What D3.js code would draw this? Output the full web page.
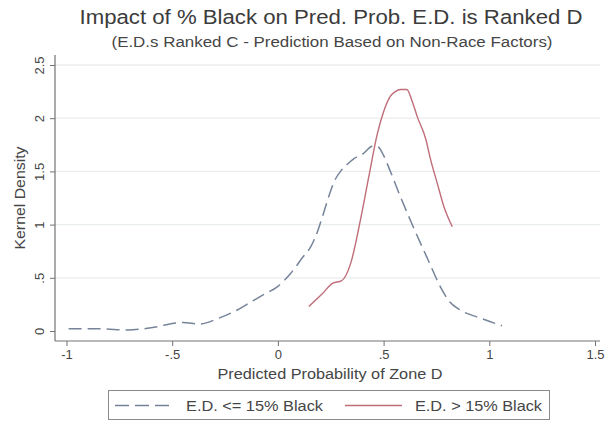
<!DOCTYPE html>
<html><head><meta charset="utf-8">
<script src="https://cdn.jsdelivr.net/npm/d3@7"></script>
<style>
html,body{margin:0;padding:0;background:#fff;}
svg{display:block;font-family:"Liberation Sans",Arial,sans-serif;}
</style></head>
<body>
<svg id="chart" width="605" height="422"></svg>
<script>
// ---- data ----
const titleText = "Impact of % Black on Pred. Prob. E.D. is Ranked D";
const subtitleText = "(E.D.s Ranked C - Prediction Based on Non-Race Factors)";
const xTitle = "Predicted Probability of Zone D";
const yTitle = "Kernel Density";
const xTicks = [-1, -0.5, 0, 0.5, 1, 1.5];
const xTickLabels = ["-1", "-.5", "0", ".5", "1", "1.5"];
const yTicks = [0, 0.5, 1, 1.5, 2, 2.5];
const yTickLabels = ["0", ".5", "1", "1.5", "2", "2.5"];
const seriesNames = ["E.D. <= 15% Black", "E.D. > 15% Black"];

const lowX = [-0.99,-0.84,-0.71,-0.60,-0.45,-0.37,-0.28,-0.19,-0.13,-0.07,0.0,0.06,0.12,0.155,0.19,0.21,0.235,0.27,0.30,0.33,0.36,0.405,0.45,0.475,0.495,0.53,0.58,0.64,0.71,0.77,0.81,0.86,0.96,1.06];
const lowY = [0.02,0.02,0.01,0.03,0.08,0.065,0.12,0.20,0.27,0.34,0.42,0.54,0.70,0.79,0.95,1.07,1.23,1.42,1.51,1.57,1.62,1.67,1.74,1.73,1.67,1.51,1.26,0.98,0.67,0.41,0.28,0.20,0.12,0.05];

const highX = [0.146,0.21,0.26,0.30,0.345,0.39,0.43,0.47,0.50,0.53,0.555,0.58,0.61,0.635,0.66,0.70,0.72,0.755,0.785,0.825];
const highY = [0.23,0.35,0.45,0.47,0.64,1.04,1.45,1.85,2.06,2.20,2.25,2.27,2.27,2.16,2.01,1.80,1.63,1.38,1.17,0.98];

// ---- layout ----
const plotL = 55, plotR = 600, plotT = 55, plotB = 341;
const svg = d3.select("#chart");
const x = d3.scaleLinear().domain([-1, 1.5]).range([66.5, 595]);
const y = d3.scaleLinear().domain([0, 2.5]).range([331, 65]);

const textCol = "#454545";
const axisCol = "#727272";

// gridlines
svg.append("g").selectAll("line").data(yTicks.filter(d => d > 0)).join("line")
  .attr("x1", plotL).attr("x2", plotR)
  .attr("y1", d => y(d)).attr("y2", d => y(d))
  .attr("stroke", "#eaedee").attr("stroke-width", 1.3);

// axes
const yAxis = d3.axisLeft(y).tickValues(yTicks).tickSize(5).tickFormat((d,i) => yTickLabels[i]);
const gy = svg.append("g").attr("transform", `translate(${plotL},0)`).call(yAxis);
gy.select(".domain").remove();
gy.selectAll(".tick line").attr("stroke", axisCol);
gy.selectAll(".tick text").attr("fill", textCol).attr("font-size", 13)
  .attr("text-anchor", "middle").attr("transform", "rotate(-90)")
  .attr("x", 0).attr("y", -16).attr("dy", "0.35em");

const xAxis = d3.axisBottom(x).tickValues(xTicks).tickSize(5).tickFormat((d,i) => xTickLabels[i]);
const gx = svg.append("g").attr("transform", `translate(0,${plotB})`).call(xAxis);
gx.select(".domain").remove();
gx.selectAll(".tick line").attr("stroke", axisCol);
gx.selectAll(".tick text").attr("fill", textCol).attr("font-size", 13).attr("y", 9).attr("dy", "0.71em");

svg.append("line").attr("x1", plotL).attr("x2", plotL).attr("y1", plotT).attr("y2", plotB)
  .attr("stroke", axisCol).attr("stroke-width", 1.2);
svg.append("line").attr("x1", plotL).attr("x2", plotR).attr("y1", plotB).attr("y2", plotB)
  .attr("stroke", axisCol).attr("stroke-width", 1.2);

// lines
const line = d3.line().x(d => x(d[0])).y(d => y(d[1])).curve(d3.curveMonotoneX);
const lowData = lowX.map((v,i) => [v, lowY[i]]);
const highData = highX.map((v,i) => [v, highY[i]]);
const lowCol = "#76849a", highCol = "#bf6d78";
svg.append("path").datum(lowData).attr("d", line).attr("fill", "none")
  .attr("stroke", lowCol).attr("stroke-width", 1.5).attr("stroke-dasharray", "13,6");
svg.append("path").datum(highData).attr("d", line).attr("fill", "none")
  .attr("stroke", highCol).attr("stroke-width", 1.4);

// titles
svg.append("text").attr("x", 331).attr("y", 24).attr("text-anchor", "middle")
  .attr("font-size", 20).attr("fill", "#3c3c3c")
  .attr("textLength", 503).attr("lengthAdjust", "spacingAndGlyphs").text(titleText);
svg.append("text").attr("x", 332).attr("y", 47).attr("text-anchor", "middle")
  .attr("font-size", 14).attr("fill", textCol)
  .attr("textLength", 441).attr("lengthAdjust", "spacingAndGlyphs").text(subtitleText);
svg.append("text").attr("x", 330).attr("y", 379).attr("text-anchor", "middle")
  .attr("font-size", 14).attr("fill", textCol)
  .attr("textLength", 225).attr("lengthAdjust", "spacingAndGlyphs").text(xTitle);
svg.append("text").attr("transform", "translate(25,198) rotate(-90)").attr("text-anchor", "middle")
  .attr("font-size", 14).attr("fill", textCol)
  .attr("textLength", 103).attr("lengthAdjust", "spacingAndGlyphs").text(yTitle);

// legend
const lg = svg.append("g");
lg.append("rect").attr("x", 108.5).attr("y", 390.5).attr("width", 441).attr("height", 29)
  .attr("fill", "#fff").attr("stroke", "#8a8a8a").attr("stroke-width", 1);
const legItems = [
  {name: seriesNames[0], col: lowCol, dash: "14,6", x0: 115, x1: 172, tx: 186, w: 137},
  {name: seriesNames[1], col: highCol, dash: null, x0: 345, x1: 402, tx: 415, w: 127}
];
legItems.forEach(it => {
  lg.append("line").attr("x1", it.x0).attr("x2", it.x1).attr("y1", 405.5).attr("y2", 405.5)
    .attr("stroke", it.col).attr("stroke-width", 1.5).attr("stroke-dasharray", it.dash);
  lg.append("text").attr("x", it.tx).attr("y", 411).attr("font-size", 14)
    .attr("fill", textCol).attr("textLength", it.w).attr("lengthAdjust", "spacingAndGlyphs").text(it.name);
});
</script>
</body></html>
